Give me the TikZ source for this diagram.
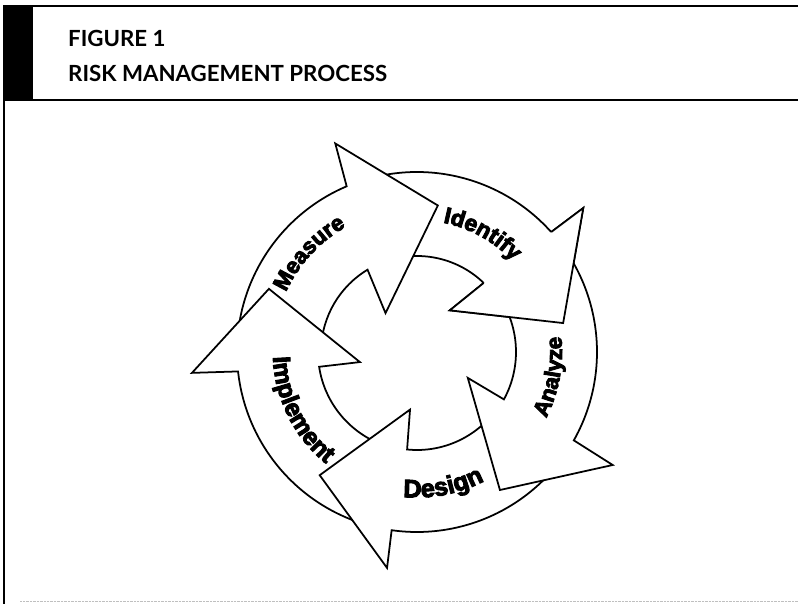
\documentclass[tikz,border=0pt]{standalone}
\usepackage{fontspec}
\usepackage{tikz}
\usetikzlibrary{decorations.text}
\newfontfamily\titlefont{Lato}
\newfontfamily\arrowfont{Liberation Sans Bold}[FakeBold=4]
\newcommand{\wordfont}[1]{\arrowfont\fontsize{#1}{#1}\selectfont}
\tikzset{
  band/.style={draw=black, fill=white, line width=1.5pt},
  rule/.style={line width=1.1pt},
  title/.style={anchor=base west, inner sep=0pt, font=\titlefont\bfseries\fontsize{19}{19}\selectfont},
}

\begin{document}
\begin{tikzpicture}[x=0.03cm, y=0.03cm]
\useasboundingbox (0,0) rectangle (798,604);
% frame and header
\fill[black] (3,504) rectangle (33,598);
\draw[rule] (3,598) -- (798,598);
\draw[rule] (3,504) -- (798,504);
\draw[rule] (4,504) -- (4,0);
\draw[very thin, gray!50, densely dotted] (20,3) -- (798,3);
\node[title] (fig) at (68,557) {FIGURE 1};
\node[title] (head) at (68,522) {RISK MANAGEMENT PROCESS};

\begin{scope}[shift={(417,252)}]
% Identify
\draw[band] (107:180) arc[start angle=107, end angle=41.8, radius=180] -- (40.9:220) -- (11.2:149) -- (51.8:53) -- (46:96) arc[start angle=46, end angle=107, radius=96] -- cycle;
% Measure
\draw[band] (178:180) arc[start angle=178, end angle=113, radius=180] -- (111.4:224) -- (81.9:148) -- (129:50) -- (121:96) arc[start angle=121, end angle=178, radius=96] -- cycle;
% Implement
\draw[band] (251:180) arc[start angle=251, end angle=186.2, radius=180] -- (185.3:226) -- (156.9:161) -- (190:58) -- (188.6:99) arc[start angle=188.6, end angle=251, radius=99] -- cycle;
% Design
\draw[band] (-33:180) arc[start angle=-33, end angle=-98.1, radius=180] -- (-97.9:218) -- (-128.3:157) -- (-96.9:58) -- (-95.8:98) arc[start angle=-95.8, end angle=-33, radius=98] -- cycle;
% Analyze
\draw[band] (36:180) arc[start angle=36, end angle=-29.4, radius=180] -- (-30:226) -- (-59:161) -- (-27:57) -- (-28.6:99) arc[start angle=-28.6, end angle=36, radius=99] -- cycle;
% Identify head again, over the tail of Analyze
\fill[white] (41.8:180) -- (40.9:220) -- (11.2:149) -- (51.8:53) -- (46:96) -- cycle;
\draw[band, fill=none] (41.8:180) -- (40.9:220) -- (11.2:149) -- (51.8:53) -- (46:96);

% words along the arrows
\path[decorate, decoration={text along path, text align=center, text={|\wordfont{19}|Measure}}] (177.5:144) arc[start angle=177.5, end angle=97.5, radius=144];
\path[decorate, decoration={text along path, text align=center, text={|\wordfont{19.5}|Identify}}] (101:132) arc[start angle=101, end angle=21, radius=132];
\path[decorate, decoration={text along path, text align=center, text={|\wordfont{19}|Analyze}}] (-50.5:145) arc[start angle=-50.5, end angle=29.5, radius=145];
\path[decorate, decoration={text along path, text align=center, text={|\wordfont{21.5}|Design}}] (-118.9:145.5) arc[start angle=-118.9, end angle=-38.9, radius=145.5];
\path[decorate, decoration={text along path, text align=center, text={|\wordfont{21}|Implement}}] (161.4:144) arc[start angle=161.4, end angle=251.4, radius=144];
\end{scope}
\end{tikzpicture}
\end{document}
